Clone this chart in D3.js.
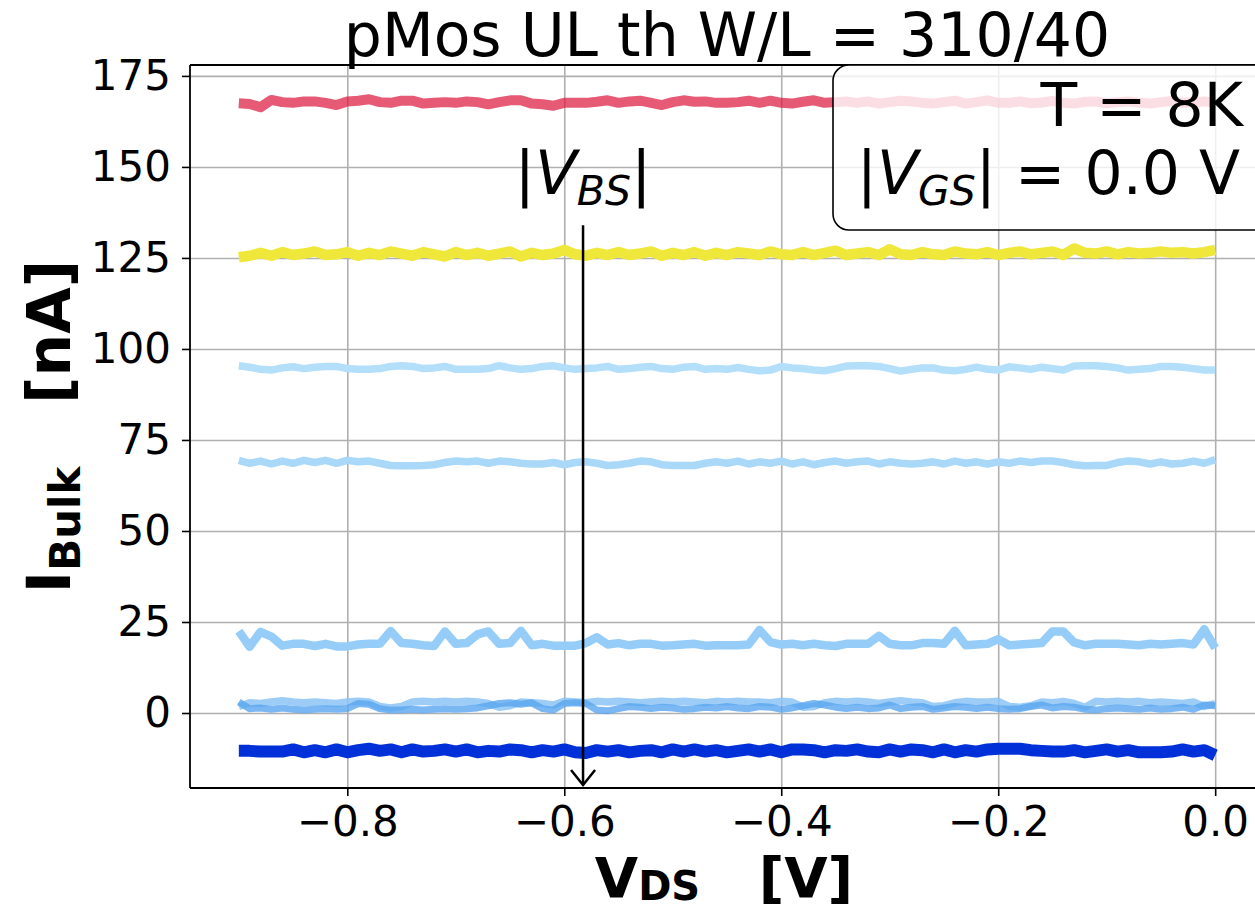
<!DOCTYPE html>
<html><head><meta charset="utf-8">
<script src="https://cdn.jsdelivr.net/npm/d3@7"></script>
<style>
html,body{margin:0;padding:0;background:#fff;}
svg{display:block;font-family:"DejaVu Sans",sans-serif;}
text{white-space:pre;}
</style></head><body>
<svg id="chart" width="1255" height="909"></svg>
<script>
// ---------------- data ----------------
const vds = [
-0.90,-0.89,-0.88,-0.87,-0.86,-0.85,-0.84,-0.83,-0.82,-0.81,
-0.80,-0.79,-0.78,-0.77,-0.76,-0.75,-0.74,-0.73,-0.72,-0.71,
-0.70,-0.69,-0.68,-0.67,-0.66,-0.65,-0.64,-0.63,-0.62,-0.61,
-0.60,-0.59,-0.58,-0.57,-0.56,-0.55,-0.54,-0.53,-0.52,-0.51,
-0.50,-0.49,-0.48,-0.47,-0.46,-0.45,-0.44,-0.43,-0.42,-0.41,
-0.40,-0.39,-0.38,-0.37,-0.36,-0.35,-0.34,-0.33,-0.32,-0.31,
-0.30,-0.29,-0.28,-0.27,-0.26,-0.25,-0.24,-0.23,-0.22,-0.21,
-0.20,-0.19,-0.18,-0.17,-0.16,-0.15,-0.14,-0.13,-0.12,-0.11,
-0.10,-0.09,-0.08,-0.07,-0.06,-0.05,-0.04,-0.03,-0.02,-0.01,
0.00];

const curveRed = [
167.5,167.3,166.4,168.4,167.8,167.6,168.0,168.0,167.6,167.0,
168.0,168.2,168.6,167.8,167.6,168.2,168.2,167.4,167.6,167.8,
167.6,168.0,167.8,167.2,167.8,168.3,168.3,167.4,167.2,166.8,
167.6,167.6,167.6,167.9,168.3,167.6,168.0,168.2,167.6,167.0,
167.8,168.3,167.9,168.0,167.6,167.6,167.8,168.2,167.6,168.2,
167.6,167.4,167.9,168.3,167.6,167.8,168.0,167.6,168.0,167.4,
167.8,168.2,168.0,167.6,167.4,167.8,168.2,167.4,167.8,168.3,
167.6,167.6,168.0,167.5,167.7,168.1,167.6,167.4,167.9,168.0,
167.5,167.8,168.0,167.6,167.4,167.8,168.1,167.6,167.8,168.0,
167.6];

const curveYellow = [
125.2,125.6,126.4,125.6,126.6,125.8,126.2,126.8,125.8,126.0,
126.6,125.6,126.4,125.8,126.8,126.2,125.6,126.6,126.0,125.4,
126.6,125.8,126.4,125.6,126.2,126.8,125.4,126.4,125.8,126.2,
127.2,126.0,125.6,126.4,125.8,126.6,125.8,126.2,126.8,125.6,
126.4,125.8,126.6,125.6,126.4,125.8,126.6,126.2,125.8,126.8,
126.0,125.8,126.6,125.8,126.4,127.0,125.8,126.2,126.6,125.8,
127.4,126.0,125.8,126.6,126.0,125.8,126.8,126.2,126.0,126.6,
125.8,126.4,126.8,126.0,126.4,126.8,125.8,127.6,126.4,126.2,
126.8,126.0,126.6,126.2,126.4,126.8,126.4,126.6,126.2,126.6,
127.2];

const curve95 = [
95.4,95.0,94.4,94.2,94.8,95.1,94.6,95.0,95.2,95.2,
94.6,94.4,94.4,94.6,95.2,95.4,95.2,94.6,94.8,95.2,
94.4,94.4,94.4,94.6,95.4,94.8,94.4,94.6,95.2,95.4,
94.8,94.4,94.6,94.8,95.2,94.4,94.6,95.0,95.2,94.6,
94.4,95.0,95.2,94.4,94.6,94.4,94.9,94.4,94.0,94.2,
95.2,94.8,94.6,94.2,94.0,94.6,95.3,95.4,95.4,95.2,
94.6,93.9,94.4,94.8,94.8,94.2,94.0,94.4,95.0,94.4,
94.2,95.1,94.8,94.4,95.0,94.6,94.2,95.3,95.4,95.4,
95.2,94.8,94.2,94.4,94.6,95.2,95.2,95.0,94.6,94.2,
94.2];

const curve68 = [
69.4,68.6,69.2,68.4,69.2,68.6,69.4,68.8,69.4,68.6,
69.4,69.0,69.2,68.6,68.0,67.9,67.9,68.0,68.2,68.8,
69.2,69.0,69.2,68.6,69.2,69.0,68.6,68.4,68.4,68.8,
68.2,68.8,69.0,68.6,68.0,68.2,68.6,69.2,69.0,68.2,
68.0,68.0,68.0,68.6,69.0,68.6,69.2,68.4,69.0,68.6,
69.2,68.4,69.0,68.2,68.8,69.2,68.6,69.0,69.2,68.4,
69.0,68.6,68.4,68.6,69.0,68.4,69.2,68.6,69.0,68.4,
69.0,68.6,69.2,68.8,69.2,69.2,68.8,68.2,67.9,68.0,
68.0,68.8,69.2,69.0,68.4,69.0,68.4,68.6,69.2,68.6,
69.6];

const curve19 = [
22.5,18.2,22.3,21.0,18.5,19.0,19.0,18.4,19.0,18.3,
18.3,18.8,19.0,19.0,22.5,19.2,19.0,18.6,18.4,22.4,
19.0,19.2,21.6,22.4,19.0,19.2,22.6,18.6,19.0,18.5,
18.5,18.5,19.2,20.8,18.8,19.2,18.6,19.0,19.0,18.5,
18.6,18.8,19.0,18.5,18.6,18.6,18.6,18.8,22.8,19.5,
18.8,19.0,18.6,19.0,18.6,18.4,19.0,19.0,19.0,21.2,
19.0,18.6,18.6,19.2,19.2,19.0,22.6,18.6,18.8,19.0,
20.3,18.6,18.8,19.0,19.2,22.4,22.4,19.4,18.6,19.0,
19.0,19.0,18.8,18.6,19.0,18.8,19.0,19.2,18.8,23.0,
17.8];

const curve2a = [
1.8,2.8,2.6,3.0,3.4,3.0,2.8,3.0,2.8,2.6,
3.0,3.2,3.0,1.8,1.4,1.8,3.0,3.2,3.0,3.2,
3.0,3.2,3.0,2.6,1.6,2.0,3.0,2.8,2.6,2.2,
3.2,3.0,2.8,3.2,3.0,3.2,3.0,2.8,3.0,3.2,
3.0,3.2,3.0,2.8,3.2,3.0,3.2,3.0,3.0,2.8,
3.2,3.0,1.6,1.8,2.8,3.2,3.0,3.2,3.0,2.6,
3.0,3.4,3.0,2.8,1.8,2.0,2.8,3.2,3.0,3.0,
3.2,1.8,1.6,2.0,3.0,2.8,3.2,2.6,1.6,3.2,
3.0,3.2,3.0,3.2,2.8,3.0,2.8,2.6,3.0,1.8,
2.6];

const curve2b = [
3.0,1.2,1.4,1.0,1.4,1.0,0.8,1.0,1.2,1.0,
1.2,2.6,2.4,1.2,0.8,0.8,1.0,0.8,1.0,1.2,
1.0,1.2,1.4,2.0,2.6,2.8,2.4,2.8,1.2,0.8,
2.6,2.8,2.6,0.8,0.6,1.2,1.8,1.6,1.2,1.6,
1.4,1.0,1.2,1.6,1.4,1.8,1.4,1.2,1.8,1.6,
1.0,1.4,2.0,2.6,2.2,1.6,1.2,1.6,1.2,1.4,
2.2,1.2,1.6,1.8,1.0,1.4,1.8,1.6,1.2,1.6,
1.2,1.0,1.2,1.8,2.2,1.4,1.8,1.6,1.0,0.8,
1.2,1.4,1.2,1.0,1.4,1.0,1.2,1.6,1.0,2.2,
2.0];

const curveBlue = [
-10.4,-10.4,-10.6,-10.6,-10.6,-10.0,-10.8,-10.2,-10.8,-10.0,
-10.8,-10.2,-9.8,-10.4,-10.0,-10.8,-10.0,-10.6,-10.4,-10.0,
-10.6,-10.0,-10.8,-10.4,-10.6,-10.0,-10.2,-10.8,-10.2,-10.6,
-10.0,-10.8,-11.0,-10.2,-10.6,-10.2,-10.8,-10.4,-10.2,-10.8,
-10.0,-10.6,-10.0,-10.6,-10.2,-10.8,-10.4,-10.0,-10.6,-10.0,
-10.8,-10.0,-10.0,-10.2,-10.8,-10.2,-10.4,-10.0,-10.6,-10.8,
-10.0,-10.6,-10.0,-10.2,-10.8,-10.0,-10.8,-10.2,-10.6,-10.0,
-9.8,-9.8,-9.8,-10.2,-10.4,-10.6,-10.6,-10.2,-10.8,-10.4,
-10.0,-10.6,-10.2,-10.8,-10.8,-10.8,-10.6,-10.0,-10.6,-10.2,
-11.6];

const xTicks = [-0.8, -0.6, -0.4, -0.2, 0.0];
const xTickLabels = ["\u22120.8", "\u22120.6", "\u22120.4", "\u22120.2", "0.0"];
const yTicks = [0, 25, 50, 75, 100, 125, 150, 175];
const yTickLabels = ["0", "25", "50", "75", "100", "125", "150", "175"];

const titleText = "pMos UL th W/L = 310/40";
const arrowX = -0.5827, arrowFrom = 134.0, arrowTo = -19.8, arrowTextY = 142.6;

// ---------------- drawing ----------------
const M = {left: 190, right: 1264, top: 65, bottom: 788};
const x = d3.scaleLinear().domain([-0.945, 0.045]).range([M.left, M.right]);
const y = d3.scaleLinear().domain([-20.6, 178]).range([M.bottom, M.top]);
const svg = d3.select("#chart");
const FONT = '"DejaVu Sans", sans-serif';

// grid
const gridX = svg.append("g").attr("transform", `translate(0,${M.bottom})`)
  .call(d3.axisBottom(x).tickValues(xTicks).tickSize(-(M.bottom - M.top)).tickFormat(""));
gridX.select(".domain").remove();
gridX.selectAll("line").attr("stroke", "#b0b0b0").attr("stroke-width", 1.6);
const gridY = svg.append("g").attr("transform", `translate(${M.left},0)`)
  .call(d3.axisLeft(y).tickValues(yTicks).tickSize(-(M.right - M.left)).tickFormat(""));
gridY.select(".domain").remove();
gridY.selectAll("line").attr("stroke", "#b0b0b0").attr("stroke-width", 1.6);

// curves
const seriesValues = [curveRed, curveYellow, curve95, curve68, curve19, curve2a, curve2b, curveBlue];
const seriesStyle = [
  {c: "#dc143c", w: 10, o: 0.7},
  {c: "#efe83a", w: 10.5, o: 1},
  {c: "#b4dffa", w: 7.5, o: 1},
  {c: "#a9d8f8", w: 7.5, o: 1},
  {c: "#96cdf8", w: 8.5, o: 1},
  {c: "#8cc4f5", w: 7.5, o: 0.85},
  {c: "#5aa6f0", w: 7, o: 0.8},
  {c: "#0030d8", w: 12, o: 1}
];
const lineGen = d3.line().x((d, i) => x(vds[i])).y(d => y(d));
seriesValues.forEach((vals, k) => {
  const st = seriesStyle[k];
  svg.append("path").datum(vals).attr("d", lineGen)
    .attr("fill", "none").attr("stroke", st.c).attr("stroke-width", st.w)
    .attr("stroke-opacity", st.o).attr("stroke-linejoin", "round").attr("stroke-linecap", "butt");
});

// arrow annotation
const ax0 = x(arrowX);
svg.append("line").attr("x1", ax0).attr("x2", ax0).attr("y1", y(arrowFrom)).attr("y2", y(arrowTo))
  .attr("stroke", "#000").attr("stroke-width", 2.5);
svg.append("path")
  .attr("d", `M${ax0 - 12},${y(arrowTo) - 15} L${ax0},${y(arrowTo)} L${ax0 + 12},${y(arrowTo) - 15}`)
  .attr("fill", "none").attr("stroke", "#000").attr("stroke-width", 2.5);
const at = svg.append("text").attr("x", ax0).attr("y", y(arrowTextY))
  .attr("text-anchor", "middle").attr("font-size", 61).attr("font-family", FONT).attr("fill", "#000");
at.append("tspan").text("|");
at.append("tspan").attr("font-style", "italic").text("V");
at.append("tspan").attr("font-style", "italic").attr("font-size", 41).attr("dy", 11).text("BS");
at.append("tspan").attr("dy", -11).text("|");

// spines
svg.append("line").attr("x1", M.left).attr("x2", M.left).attr("y1", M.top).attr("y2", M.bottom)
  .attr("stroke", "#000").attr("stroke-width", 1.8);
svg.append("line").attr("x1", M.left).attr("x2", M.right).attr("y1", M.bottom).attr("y2", M.bottom)
  .attr("stroke", "#000").attr("stroke-width", 1.8);
svg.append("line").attr("x1", M.left).attr("x2", M.right).attr("y1", M.top).attr("y2", M.top)
  .attr("stroke", "#000").attr("stroke-width", 1.8);

// axes
const axX = svg.append("g").attr("transform", `translate(0,${M.bottom})`)
  .call(d3.axisBottom(x).tickValues(xTicks).tickFormat((d, i) => xTickLabels[i]).tickSize(8).tickPadding(10));
axX.select(".domain").remove();
axX.selectAll("line").attr("stroke", "#000").attr("stroke-width", 1.6);
axX.selectAll("text").attr("font-size", 42).attr("font-family", FONT).attr("fill", "#000");
const axY = svg.append("g").attr("transform", `translate(${M.left},0)`)
  .call(d3.axisLeft(y).tickValues(yTicks).tickFormat((d, i) => yTickLabels[i]).tickSize(8).tickPadding(11));
axY.select(".domain").remove();
axY.selectAll("line").attr("stroke", "#000").attr("stroke-width", 1.6);
axY.selectAll("text").attr("font-size", 42).attr("font-family", FONT).attr("fill", "#000");

// title
svg.append("text").attr("x", (M.left + M.right) / 2).attr("y", 56).attr("text-anchor", "middle")
  .attr("font-size", 60).attr("font-family", FONT).attr("fill", "#000").text(titleText);

// x label
const xl = svg.append("text").attr("x", (M.left + M.right) / 2 - 3).attr("y", 897).attr("text-anchor", "middle")
  .attr("font-size", 56).attr("font-weight", "bold").attr("font-family", FONT).attr("fill", "#000");
xl.append("tspan").text("V");
xl.append("tspan").attr("font-size", 40).attr("dy", 3).text("DS");
xl.append("tspan").attr("dy", -3).text("   [V]");

// y label
const yl = svg.append("text").attr("transform", `translate(70,${(M.top + M.bottom) / 2}) rotate(-90)`)
  .attr("text-anchor", "middle").attr("font-size", 60).attr("font-weight", "bold")
  .attr("font-family", FONT).attr("fill", "#000");
yl.append("tspan").text("I");
yl.append("tspan").attr("font-size", 42).attr("dy", 10).text("Bulk");
yl.append("tspan").attr("dy", -10).text("   [nA]");

// info box
svg.append("rect").attr("x", 833).attr("y", 65).attr("width", 440).attr("height", 165).attr("rx", 16)
  .attr("fill", "#fff").attr("fill-opacity", 0.8).attr("stroke", "#000").attr("stroke-width", 1.6);
svg.append("text").attr("x", 1243).attr("y", 126).attr("text-anchor", "end")
  .attr("font-size", 60).attr("font-family", FONT).attr("fill", "#000").text("T = 8K");
const l2 = svg.append("text").attr("x", 1240).attr("y", 194).attr("text-anchor", "end")
  .attr("font-size", 60).attr("font-family", FONT).attr("fill", "#000");
l2.append("tspan").text("|");
l2.append("tspan").attr("font-style", "italic").text("V");
l2.append("tspan").attr("font-style", "italic").attr("font-size", 41).attr("dy", 11).text("GS");
l2.append("tspan").attr("dy", -11).text("| = 0.0 V");
</script>
</body></html>
